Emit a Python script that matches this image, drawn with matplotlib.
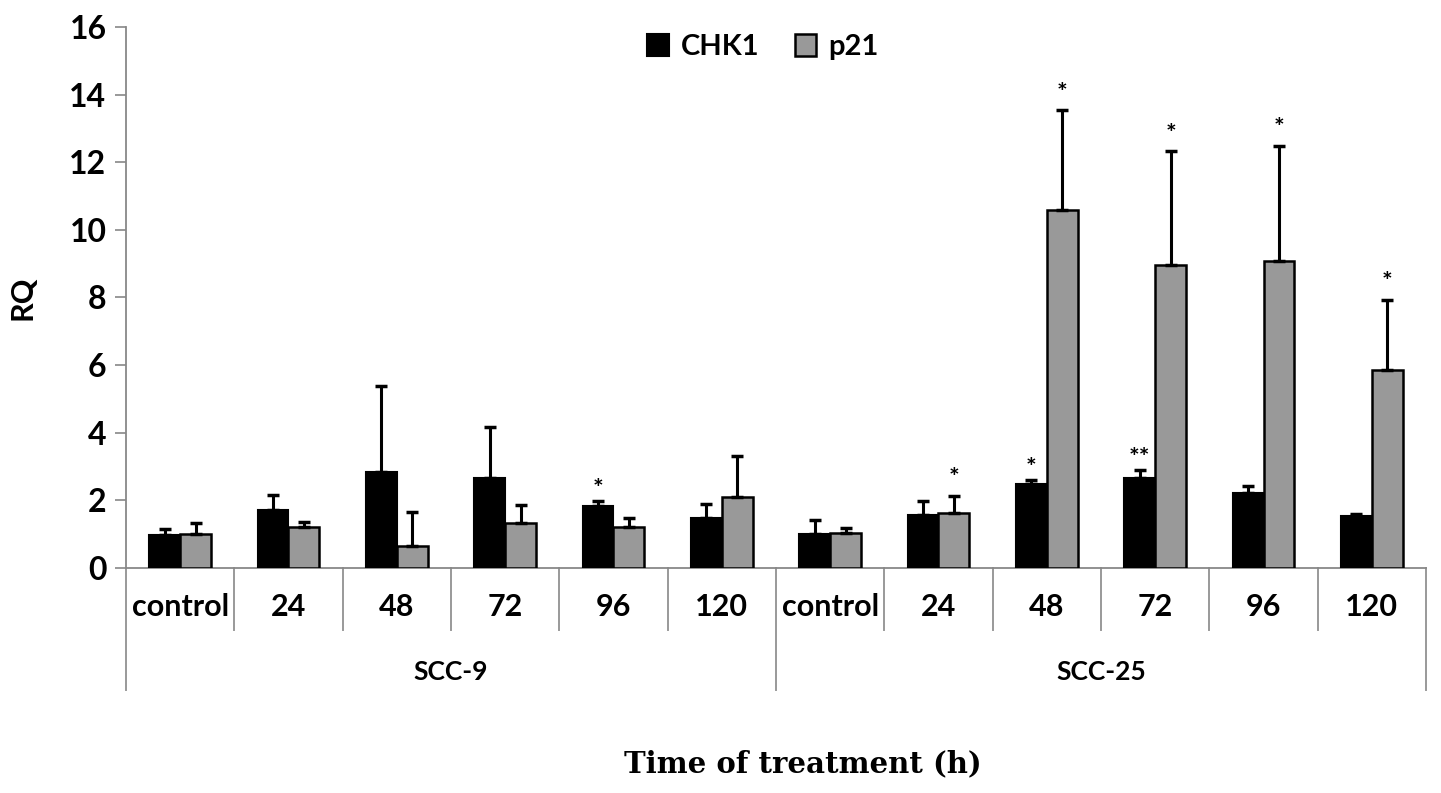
import matplotlib
matplotlib.use('Agg')
import matplotlib.pyplot as plt
import numpy as np

# values
groups = ['SCC-9', 'SCC-25']
times = ['control', '24', '48', '72', '96', '120']
chk1 = [0.99, 1.72, 2.83, 2.65, 1.84, 1.48,
        1.00, 1.57, 2.49, 2.67, 2.22, 1.54]
chk1_err = [0.15, 0.43, 2.54, 1.51, 0.15, 0.42,
            0.42, 0.41, 0.12, 0.23, 0.21, 0.06]
p21 = [1.02, 1.22, 0.65, 1.34, 1.20, 2.10,
       1.03, 1.63, 10.58, 8.96, 9.08, 5.87]
p21_err = [0.30, 0.15, 1.00, 0.51, 0.28, 1.22,
           0.15, 0.51, 2.96, 3.37, 3.40, 2.07]
chk1_stars = ['', '', '', '', '*', '', '', '', '*', '**', '', '']
p21_stars = ['', '', '', '', '', '', '', '*', '*', '*', '*', '*']

plt.rcParams['font.family'] = ['Lato', 'DejaVu Sans']
plt.rcParams['font.weight'] = 'bold'

fig = plt.figure(figsize=(14.41, 7.93), dpi=100)
ax = fig.add_axes([0.0874, 0.2837, 0.9022, 0.6823])

n = len(chk1)
x = np.arange(n)
w = 0.285
err_kw = dict(ecolor='black', elinewidth=2.2, capsize=4.5, capthick=2.5)

ax.bar(x - w / 2, chk1, w, color='black', edgecolor='black', linewidth=1.5,
       yerr=[np.zeros(n), chk1_err], error_kw=err_kw, label='CHK1', zorder=3)
ax.bar(x + w / 2, p21, w, color='#999999', edgecolor='black', linewidth=1.8,
       yerr=[np.zeros(n), p21_err], error_kw=err_kw, label='p21', zorder=3)

# significance stars
for i in range(n):
    if chk1_stars[i]:
        ax.annotate(chk1_stars[i], (x[i] - w / 2, chk1[i] + chk1_err[i]),
                    xytext=(0, 0), textcoords='offset points',
                    ha='center', va='bottom', fontsize=18)
    if p21_stars[i]:
        ax.annotate(p21_stars[i], (x[i] + w / 2, p21[i] + p21_err[i]),
                    xytext=(0, 4), textcoords='offset points',
                    ha='center', va='bottom', fontsize=18)

ax.set_xlim(-0.5, n - 0.5)
ax.set_ylim(0, 16)
ax.set_yticks(range(0, 17, 2))
ax.tick_params(axis='y', direction='out', length=8, width=1.2, color='#888888',
               labelsize=23, pad=6)
ax.set_xticks([])
for lab in ax.get_yticklabels():
    lab.set_fontweight('bold')

for side in ['top', 'right']:
    ax.spines[side].set_visible(False)
ax.spines['left'].set_color('#888888')
ax.spines['left'].set_linewidth(1.3)
ax.spines['bottom'].set_color('#888888')
ax.spines['bottom'].set_linewidth(1.3)

ax.set_ylabel('RQ', fontsize=22, fontweight='bold', labelpad=24)

# category table under the axis
trans = ax.get_xaxis_transform()
for b in np.arange(-0.5, n, 1.0):
    if b in (-0.5, 5.5, n - 0.5):
        y_end = -0.225
    else:
        y_end = -0.115
    ax.plot([b, b], [0, y_end], color='#999999', lw=1.4, transform=trans,
            clip_on=False)

labels = times * len(groups)
for i, lab in enumerate(labels):
    ax.text(x[i], -0.072, lab, transform=trans, ha='center', va='center',
            fontsize=22, fontweight='bold')
for g, name in enumerate(groups):
    ax.text(g * 6 + 2.5, -0.192, name, transform=trans, ha='center',
            va='center', fontsize=19, fontweight='bold')

fig.text(0.557, 0.037, 'Time of treatment (h)', ha='center', va='center',
         fontsize=21, fontweight='bold', family='DejaVu Serif')

ax.legend(loc='upper center', bbox_to_anchor=(0.49, 1.035), ncol=2, frameon=False,
          prop={'size': 21, 'weight': 'bold'}, handlelength=0.75,
          handleheight=0.75, handletextpad=0.4, columnspacing=1.2)

fig.savefig('out.png', dpi=100)
